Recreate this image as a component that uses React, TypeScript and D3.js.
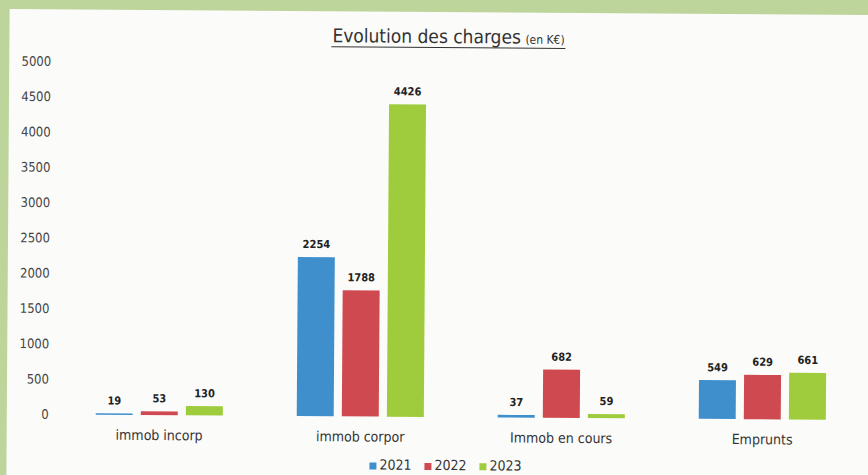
import React from "react";
import * as d3 from "d3";

const categories = ["immob incorp", "immob corpor", "Immob en cours", "Emprunts"];
const years = ["2021", "2022", "2023"];
const values2021 = [19, 2254, 37, 549];
const values2022 = [53, 1788, 682, 629];
const values2023 = [130, 4426, 59, 661];
const yTicks = [0, 500, 1000, 1500, 2000, 2500, 3000, 3500, 4000, 4500, 5000];
const colors = ["#3f8fcd", "#cf4a50", "#9fcc3c"];

const W = 868;
const H = 475;

export default function App() {
  const series = [values2021, values2022, values2023];
  const y = d3.scaleLinear().domain([0, 5000]).range([415, 62]);
  const x0 = d3.scaleBand().domain(categories).range([60, 864]).paddingInner(0.0).paddingOuter(0);
  const x1 = d3.scaleBand().domain(years).range([0, x0.bandwidth()]).paddingInner(0.18).paddingOuter(0.82);
  const font = "'DejaVu Sans Condensed', 'Liberation Sans Narrow', Arial, sans-serif";
  return (
    <svg width={W} height={H} style={{ position: "absolute", left: 0, top: 0 }} fontFamily={font}>
      <rect x={0} y={0} width={W} height={H} fill="#bdd49a" />
      <g transform="translate(0 2) rotate(0.4 434 240)">
        <rect x={8} y={10} width={880} height={480} fill="#fbfbfa" />
        <text x={331} y={41} fontSize={19} fill="#333">
          Evolution des charges
        </text>
        <text x={524} y={41} fontSize={12} fill="#333">
          (en K€)
        </text>
        <line x1={330} x2={564} y1={45.5} y2={45.5} stroke="#333" strokeWidth={1} />
        {yTicks.map((t) => (
          <text key={t} x={50} y={y(t)} dy="0.35em" textAnchor="end" fontSize={13} fill="#444">
            {t}
          </text>
        ))}
        {categories.map((c, ci) => (
          <g key={c}>
            {series.map((vals, si) => {
              const bx = (x0(c) as number) + (x1(years[si]) as number);
              const v = vals[ci];
              return (
                <g key={si}>
                  <rect x={bx} y={y(v)} width={x1.bandwidth()} height={Math.max(1.5, y(0) - y(v))} fill={colors[si]} />
                  <text x={bx + x1.bandwidth() / 2} y={y(v) - 9} textAnchor="middle" fontSize={11} fontWeight="bold" fill="#222">
                    {v}
                  </text>
                </g>
              );
            })}
            <text x={(x0(c) as number) + x0.bandwidth() / 2} y={440} textAnchor="middle" fontSize={14} fill="#333">
              {c}
            </text>
          </g>
        ))}
        {years.map((yr, i) => {
          const lx = 371 + i * 55;
          return (
            <g key={yr}>
              <rect x={lx} y={461} width={7} height={7} fill={colors[i]} />
              <text x={lx + 10} y={468} fontSize={14} fill="#333">
                {yr}
              </text>
            </g>
          );
        })}
      </g>
    </svg>
  );
}
